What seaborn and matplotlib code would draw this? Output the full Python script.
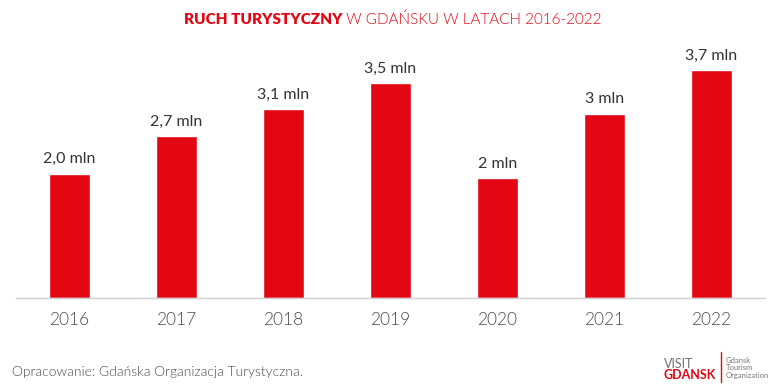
import numpy as np
import matplotlib
matplotlib.use('Agg')
import matplotlib.pyplot as plt
import seaborn as sns

years = ['2016', '2017', '2018', '2019', '2020', '2021', '2022']
tourists_mln = [2.04, 2.65, 3.1, 3.52, 1.96, 3.02, 3.73]
bar_labels = ['2,0 mln', '2,7 mln', '3,1 mln', '3,5 mln', '2 mln', '3 mln', '3,7 mln']

RED = '#E30613'
GREY = '#4a4a4a'

sns.set_theme(style='white')
plt.rcParams['font.family'] = ['Lato', 'DejaVu Sans']

fig = plt.figure(figsize=(7.79, 3.9), dpi=100)
ax = fig.add_axes([16 / 779, 92 / 390, 749 / 779, 244 / 390])

sns.barplot(x=years, y=tourists_mln, color=RED, saturation=1, width=0.39, ax=ax)

ax.set_xlim(-0.5, 6.5)
ax.set_ylim(0, 4)
for s in ['top', 'right', 'left']:
    ax.spines[s].set_visible(False)
ax.spines['bottom'].set_color('#cfcfcf')
ax.spines['bottom'].set_linewidth(1)
ax.set_yticks([])
ax.set_xlabel('')
ax.set_ylabel('')

ax.set_xticks(np.arange(-0.5, 7, 1), minor=True)
ax.tick_params(axis='x', which='minor', length=5, color='#cfcfcf', width=1, direction='out')
ax.tick_params(axis='x', which='major', length=0, pad=10, labelsize=12.5, labelcolor=GREY)
for lab in ax.get_xticklabels():
    lab.set_fontweight(300)

for i, (v, lab) in enumerate(zip(tourists_mln, bar_labels)):
    ax.text(i, v + 0.12, lab, ha='center', va='bottom', fontsize=11.5, color='#333333')

# title: bold part + light part
y_title = 1 - 20 / 390
t1 = fig.text(0.5, y_title, 'RUCH TURYSTYCZNY', ha='left', va='center',
              fontsize=11, fontweight='heavy', color=RED)
t2 = fig.text(0.5, y_title, ' W GDAŃSKU W LATACH 2016-2022', ha='left', va='center',
              fontsize=11, fontweight=300, color=RED)
fig.canvas.draw()
r = fig.canvas.get_renderer()
w1 = t1.get_window_extent(r).width
w2 = t2.get_window_extent(r).width
x0 = 393 - (w1 + w2) / 2
t1.set_x(x0 / 779)
t2.set_x((x0 + w1) / 779)

fig.text(12 / 779, 1 - 372 / 390, 'Opracowanie: Gdańska Organizacja Turystyczna.',
         ha='left', va='center', fontsize=10, fontweight=300, color=GREY)

# logo
fig.text(664 / 779, 1 - 364 / 390, 'VISIT', ha='left', va='center',
         fontsize=9, color='#6f6f6f')
fig.text(664 / 779, 1 - 375 / 390, 'GDANSK', ha='left', va='center',
         fontsize=9, fontweight='bold', color=RED)
fig.add_artist(plt.Line2D([721 / 779, 721 / 779], [1 - 382 / 390, 1 - 352 / 390],
                          color=RED, lw=1))
fig.text(726 / 779, 1 - 368 / 390, 'Gdansk\nTourism\nOrganization', ha='left', va='center',
         fontsize=5.5, color='#777777', linespacing=1.15)

fig.savefig('out.png', dpi=100)
